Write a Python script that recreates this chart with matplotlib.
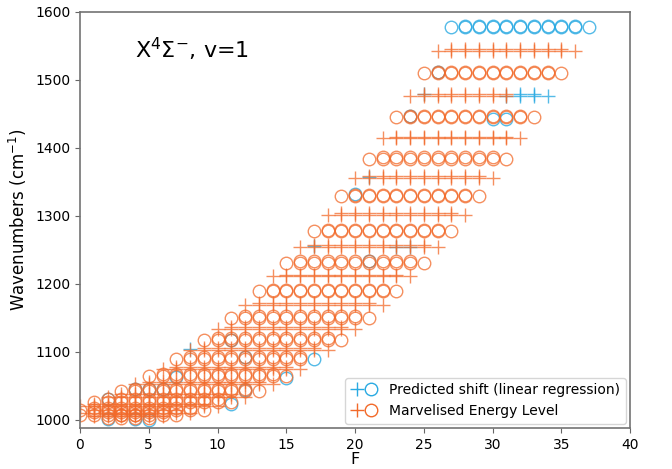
import matplotlib
matplotlib.use('Agg')
import matplotlib.pyplot as plt
from matplotlib.lines import Line2D
from matplotlib.legend_handler import HandlerTuple

# rotational rows (N = 0..32), energy of each row (cm-1)
row_n = list(range(33))
row_energy = [1003, 1005, 1007, 1010, 1014, 1020, 1026, 1034, 1043, 1052,
              1064, 1075, 1089, 1103, 1118, 1133, 1150, 1169, 1189, 1211,
              1231, 1255, 1278, 1302, 1329, 1356, 1384, 1414, 1445, 1477,
              1510, 1543, 1578]
# first and last F value seen in each row
row_fmin = [2, 1, 0, 0, 0, 0, 1, 2, 3, 4, 5, 6, 7, 8, 9, 10, 11, 12, 13, 14,
            15, 16, 17, 18, 19, 20, 21, 22, 23, 24, 25, 26, 27]
row_fmax = [5, 6, 7, 8, 9, 10, 11, 12, 13, 14, 15, 16, 17, 18, 19, 20, 21, 22,
            23, 24, 25, 26, 27, 28, 29, 30, 31, 32, 33, 34, 35, 36, 37]
# small offset of the doubled markers inside each row
row_split = [4, 4, 4, 4, 4, 4, 4, 4, 3, 3, 3, 3, 3, 3, 3, 3, 3, 3, 2, 2,
             2, 2, 2, 2, 2, 2, 2, 2, 2, 2, 2, 2, 2]

# marvelised levels stop at N=31; a few gaps
marvel_last_row = 31
marvel_missing = [(29, 32), (29, 33), (29, 34), (12, 17)]

# predicted points that sit visibly off the marvelised ones
extra_f = [26, 24, 30, 31, 25, 31, 21, 20, 17, 23, 24, 21, 11, 8, 12, 15, 7,
           2, 2, 4, 5, 4, 5, 6, 11, 12]
extra_e = [1512, 1447, 1443, 1443, 1479, 1477, 1357, 1332, 1256, 1254, 1254,
           1233, 1117, 1104, 1092, 1062, 1063, 1031, 1001, 1001, 1000, 1046,
           1046, 1046, 1024, 1044]
extra_m = ['o', 'o', 'o', 'o', '+', '+', '+', 'o', '+', '+', '+', 'o', 'o',
           '+', 'o', 'o', 'o', 'o', 'o', 'o', 'o', 'o', 'o', 'o', 'o', 'o']

blue = '#2aaae2'
orange = '#f26a2a'


def row_points(rows, keep):
    pts = {'o': ([], []), '+': ([], [])}
    for n in rows:
        m = 'o' if n % 2 == 0 else '+'
        lo, hi = row_fmin[n], row_fmax[n]
        for f in range(lo, hi + 1):
            if not keep(n, f):
                continue
            pts[m][0].append(f)
            pts[m][1].append(row_energy[n])
            if lo < f < hi:
                pts[m][0].append(f)
                pts[m][1].append(row_energy[n] + row_split[n])
    return pts


def draw(ax, pts, color, alpha):
    for m, (xs, ys) in pts.items():
        if m == 'o':
            ax.plot(xs, ys, 'o', ms=9, mfc='none', mec=color, mew=1.0,
                    alpha=alpha, ls='none')
        else:
            ax.plot(xs, ys, '+', ms=10, color=color, mew=1.0,
                    alpha=alpha, ls='none')


def in_marvel(n, f):
    return n <= marvel_last_row and (n, f) not in marvel_missing


fig = plt.figure(figsize=(6.72, 4.69), dpi=100)
ax = fig.add_axes([80 / 672, 41 / 469, 550 / 672, 416 / 469])

# predicted: where it coincides with a marvelised level it is hidden anyway,
# so only the uncovered ones and the visibly shifted ones are drawn
draw(ax, row_points(row_n, lambda n, f: not in_marvel(n, f)), blue, 0.8)
for f, e, m in zip(extra_f, extra_e, extra_m):
    if m == 'o':
        ax.plot(f, e, 'o', ms=9, mfc='none', mec=blue, mew=1.0, alpha=0.8)
    else:
        ax.plot(f, e, '+', ms=10, color=blue, mew=1.0, alpha=0.8)

# marvelised
draw(ax, row_points(row_n, in_marvel), orange, 0.75)

ax.set_xlim(0, 40)
ax.set_ylim(988, 1600)
ax.set_xlabel('F', fontsize=11.5, labelpad=0)
ax.set_ylabel('Wavenumbers (cm$^{-1}$)', fontsize=12)
ax.tick_params(labelsize=10, color='0.4')
for s in ax.spines.values():
    s.set_color('0.45')
    s.set_linewidth(1.2)
ax.text(4, 1545, 'X$^4\\Sigma^{-}$, v=1', fontsize=16, va='center')

bp = Line2D([], [], marker='+', ls='none', color=blue, ms=10)
bc = Line2D([], [], marker='o', ls='none', mfc='none', mec=blue, ms=9)
op = Line2D([], [], marker='+', ls='none', color=orange, ms=10)
oc = Line2D([], [], marker='o', ls='none', mfc='none', mec=orange, ms=9)
ax.legend([(bp, bc), (op, oc)],
          ['Predicted shift (linear regression)', 'Marvelised Energy Level'],
          handler_map={tuple: HandlerTuple(ndivide=None, pad=0)},
          loc='lower right', fontsize=10, borderaxespad=0.3)

fig.savefig('out.png', dpi=100)
